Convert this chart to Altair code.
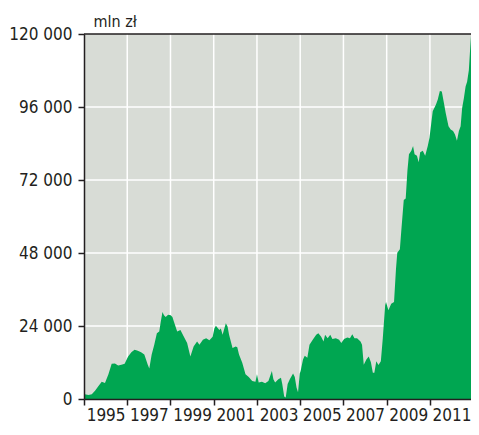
import altair as alt
import pandas as pd

# ---- data ----
years = [1994.00, 1994.03, 1994.21, 1994.36, 1994.51, 1994.67, 1994.82, 1994.97,
         1995.13, 1995.28, 1995.43, 1995.58, 1995.73, 1995.88,
         1996.04, 1996.19, 1996.34, 1996.49, 1996.64, 1996.79, 1996.95,
         1997.02, 1997.13, 1997.25, 1997.37, 1997.48, 1997.55, 1997.63, 1997.70, 1997.78, 1997.89,
         1998.01, 1998.09, 1998.16, 1998.31, 1998.46, 1998.62, 1998.77, 1998.92,
         1999.07, 1999.23, 1999.34, 1999.50, 1999.65, 1999.80, 1999.95,
         2000.03, 2000.10, 2000.26, 2000.33, 2000.41, 2000.56, 2000.64, 2000.71, 2000.87,
         2001.02, 2001.09, 2001.17, 2001.32, 2001.47, 2001.62, 2001.78, 2001.93,
         2002.00, 2002.08, 2002.23, 2002.38, 2002.53, 2002.69, 2002.76, 2002.84, 2002.99,
         2003.11, 2003.17, 2003.26, 2003.33, 2003.42, 2003.52, 2003.67, 2003.75, 2003.83, 2003.90, 2003.98,
         2004.02, 2004.13, 2004.21, 2004.33, 2004.43, 2004.58, 2004.74, 2004.84, 2004.97,
         2005.08, 2005.15, 2005.27, 2005.39, 2005.49, 2005.65, 2005.80, 2005.90,
         2006.03, 2006.18, 2006.30, 2006.41, 2006.51, 2006.63, 2006.79, 2006.86, 2006.94,
         2007.06, 2007.17, 2007.27, 2007.36, 2007.43, 2007.52, 2007.62, 2007.73, 2007.82, 2007.93, 2007.97,
         2008.08, 2008.21, 2008.34, 2008.43, 2008.49, 2008.61, 2008.68, 2008.79, 2008.88, 2008.96,
         2009.03, 2009.14, 2009.22, 2009.29, 2009.40, 2009.48, 2009.55, 2009.67, 2009.78, 2009.90, 2009.98,
         2010.13, 2010.28, 2010.36, 2010.46, 2010.55, 2010.66, 2010.73, 2010.86, 2010.96,
         2011.07, 2011.16, 2011.25, 2011.34, 2011.42, 2011.49, 2011.57, 2011.65, 2011.72, 2011.80, 2011.87, 2011.90]

values = [1600, 1600, 1300, 1600, 2700, 4300, 5700, 5300,
          8100, 11600, 11700, 11000, 11300, 11600,
          14000, 15400, 16200, 15900, 15400, 14600, 11300,
          10000, 14600, 17800, 21600, 22200, 25400, 28600, 27500, 27000, 27700,
          27500, 27000, 25400, 22200, 22700, 20500, 18400, 14000,
          17300, 18900, 17800, 19500, 20000, 19300, 20500,
          23200, 24100, 22700, 23200, 21100, 24900, 23800, 21100, 16800,
          17300, 17000, 14600, 11900, 8100, 7200, 5900, 5700,
          8100, 5400, 5700, 5200, 5900, 9200, 6500, 5400, 6500,
          7000, 4900, 800, 500, 4900, 6500, 8400, 7200, 3800, 2200, 8400,
          9200, 13000, 14200, 13600, 17800, 19500, 21100, 21600, 20500,
          18900, 21100, 20000, 21100, 19700, 20000, 19500, 18400,
          19700, 20200, 20000, 21300, 20000, 20000, 18900, 17800, 11300,
          13000, 14000, 12100, 8600, 8600, 12400, 11200, 12400, 20000, 30800, 31900,
          29200, 31300, 31900, 42700, 48100, 49200, 55700, 65400, 65900, 75100,
          80500, 81600, 83200, 80500, 80000, 77800, 81100, 81600, 80000, 83200, 85900,
          94600, 96800, 98400, 101300, 101100, 96800, 94000, 89700, 88600,
          88100, 87000, 84900, 88100, 89700, 95700, 98900, 102700, 104300, 108100, 116200, 119400]

x_label_years = [1995, 1997, 1999, 2001, 2003, 2005, 2007, 2009, 2011]
x_tick_years = [1994, 1996, 1998, 2000, 2002, 2004, 2006, 2008, 2010]
x_grid_years = [1996, 1998, 2000, 2002, 2004, 2006, 2008, 2010]
y_ticks = [0, 24000, 48000, 72000, 96000, 120000]
y_grid_values = [24000, 48000, 72000, 96000]
y_top = [120000]
unit_label = "mln zł"

# ---- styling ----
FONT = "DejaVu Sans Condensed, Liberation Sans Narrow, DejaVu Sans, sans-serif"
INK = "#231f20"
BG = "#d8dcd6"
GREEN = "#00a651"

df = pd.DataFrame({"year": years, "value": values})
xs = alt.Scale(domain=[1994, 2011.9], nice=False, zero=False)
ys = alt.Scale(domain=[0, 120000], nice=False)

# axis carrying the labels (odd years, no ticks)
x_axis_labels = alt.Axis(
    orient="bottom",
    values=x_label_years,
    format="d",
    grid=False,
    ticks=False,
    domain=True,
    domainColor=INK,
    domainWidth=1.5,
    labelFont=FONT,
    labelFontSize=17,
    labelColor=INK,
    labelPadding=8,
    labelFlush=False,
    labelOverlap=False,
    title=None,
    zindex=1,
)

# axis carrying the ticks (even years, no labels)
x_axis_ticks = alt.Axis(
    orient="bottom",
    values=x_tick_years,
    grid=False,
    labels=False,
    domain=False,
    ticks=True,
    tickSize=6,
    tickWidth=1.5,
    tickColor=INK,
    title=None,
    zindex=1,
)

y_axis = alt.Axis(
    values=y_ticks,
    labelExpr="replace(format(datum.value, ','), ',', ' ')",
    grid=False,
    tickSize=6,
    tickWidth=1.5,
    tickColor=INK,
    domainColor=INK,
    domainWidth=1.5,
    labelFont=FONT,
    labelFontSize=17,
    labelColor=INK,
    labelPadding=6,
    labelFlush=False,
    title=unit_label,
    titleAngle=0,
    titleX=9,
    titleY=-8,
    titleAlign="left",
    titleBaseline="alphabetic",
    titleFont=FONT,
    titleFontSize=16,
    titleFontWeight="normal",
    titleColor=INK,
    zindex=1,
)

xgrid = alt.Chart(pd.DataFrame({"year": x_grid_years})).mark_rule(
    color="white", strokeWidth=1.5
).encode(x=alt.X("year:Q", scale=xs, axis=x_axis_ticks))

ygrid = alt.Chart(pd.DataFrame({"value": y_grid_values})).mark_rule(
    color="white", strokeWidth=1.5
).encode(y=alt.Y("value:Q", scale=ys, axis=y_axis))

area = alt.Chart(df).mark_area(color=GREEN, opacity=1).encode(
    x=alt.X("year:Q", scale=xs, axis=x_axis_labels),
    y=alt.Y("value:Q", scale=ys, axis=y_axis),
)

top_border = alt.Chart(pd.DataFrame({"value": y_top})).mark_rule(
    color=INK, strokeWidth=1.5
).encode(y=alt.Y("value:Q", scale=ys, axis=y_axis))

chart = alt.layer(xgrid, ygrid, area, top_border).resolve_axis(
    x="independent"
).properties(
    width=387,
    height=365,
    autosize=alt.AutoSizeParams(type="none"),
    padding={"left": 76, "top": 26, "right": 0, "bottom": 28},
    background="white",
).configure_view(fill=BG, stroke=None)

chart.save("out.html", embed_options={"renderer": "svg", "actions": False})
